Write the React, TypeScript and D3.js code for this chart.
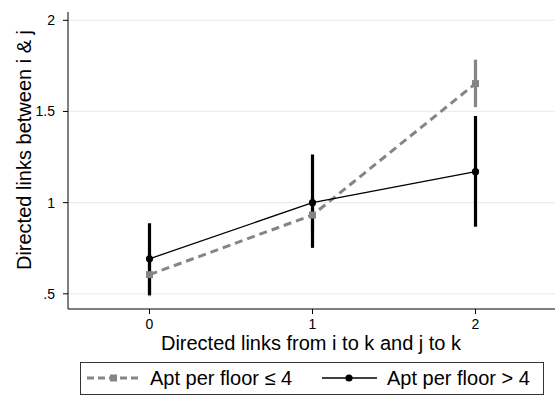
import React from "react";
import * as d3 from "d3";

const categories = [0, 1, 2];
const lowMean = [0.605, 0.932, 1.653];
const lowLo = [0.487, 0.84, 1.524];
const lowHi = [0.72, 1.03, 1.784];
const highMean = [0.692, 1.0, 1.17];
const highLo = [0.494, 0.752, 0.868];
const highHi = [0.887, 1.264, 1.475];
const yTicks = [0.5, 1, 1.5, 2];
const yTickLabels = [".5", "1", "1.5", "2"];
const xTicks = [0, 1, 2];
const seriesNames = ["Apt per floor \u2264 4", "Apt per floor > 4"];

const W = 555, H = 408;
const left = 68, right = 557, top = 12, bottom = 309;
const GRAY = "#858585";
const FONT = "'Liberation Sans', Arial, Helvetica, sans-serif";

export default function App() {
  const x = d3.scaleLinear().domain([-0.5, 2.5]).range([left, right]);
  const y = d3.scaleLinear().domain([0.5, 2]).range([293.8, 20.3]);
  const line = d3.line<number>().x((_, i) => x(categories[i])).y((v) => y(v));

  return (
    <svg width={W} height={H} style={{ position: "absolute", left: 0, top: 0, background: "#fff" }} fontFamily={FONT}>
      <rect x={0} y={0} width={W} height={H} fill="#fff" />
      {/* grid */}
      {yTicks.map((t) => (
        <line key={"g" + t} x1={left} x2={W} y1={y(t)} y2={y(t)} stroke="#e6eff1" strokeWidth={1.2} />
      ))}
      {/* axes */}
      <line x1={left} x2={left} y1={top} y2={bottom} stroke="#000" strokeWidth={1} />
      <line x1={left} x2={W} y1={bottom} y2={bottom} stroke="#000" strokeWidth={1} />
      {yTicks.map((t, i) => (
        <g key={"yt" + t}>
          <line x1={left - 5} x2={left} y1={y(t)} y2={y(t)} stroke="#000" />
          <text x={55} y={y(t) + 5} textAnchor="end" fontSize={14} fill="#000">{yTickLabels[i]}</text>
        </g>
      ))}
      {xTicks.map((t) => (
        <g key={"xt" + t}>
          <line x1={x(t)} x2={x(t)} y1={bottom} y2={bottom + 5} stroke="#000" />
          <text x={x(t)} y={329} textAnchor="middle" fontSize={14} fill="#000">{t}</text>
        </g>
      ))}
      <text x={311} y={350} textAnchor="middle" fontSize={20} fill="#000">Directed links from i to k and j to k</text>
      <text transform={`translate(31,150) rotate(-90)`} textAnchor="middle" fontSize={20} fill="#000">Directed links between i &amp; j</text>

      {/* CIs */}
      {categories.map((c, i) => (
        <line key={"lc" + c} x1={x(c)} x2={x(c)} y1={y(lowLo[i])} y2={y(lowHi[i])} stroke={GRAY} strokeWidth={3.2} />
      ))}
      {categories.map((c, i) => (
        <line key={"hc" + c} x1={x(c)} x2={x(c)} y1={y(highLo[i])} y2={y(highHi[i])} stroke="#000" strokeWidth={3.2} />
      ))}
      {/* low series */}
      <path d={line(lowMean) || ""} fill="none" stroke={GRAY} strokeWidth={3} strokeDasharray="8,5" />
      {categories.map((c, i) => (
        <rect key={"ls" + c} x={x(c) - 3.5} y={y(lowMean[i]) - 3.5} width={7} height={7} fill={GRAY} />
      ))}
      {/* high series */}
      <path d={line(highMean) || ""} fill="none" stroke="#000" strokeWidth={1.3} />
      {categories.map((c, i) => (
        <circle key={"hs" + c} cx={x(c)} cy={y(highMean[i])} r={3.6} fill="#000" />
      ))}

      {/* legend */}
      <rect x={80.5} y={362.5} width={463} height={32} fill="#fff" stroke="#333" strokeWidth={1} />
      <line x1={87} x2={140} y1={378} y2={378} stroke={GRAY} strokeWidth={3} strokeDasharray="7,4" />
      <rect x={110} y={374.5} width={7} height={7} fill={GRAY} />
      <text x={150} y={385} fontSize={20} fill="#000">{seriesNames[0]}</text>
      <line x1={322} x2={377} y1={378} y2={378} stroke="#000" strokeWidth={1.3} />
      <circle cx={349} cy={378} r={3.6} fill="#000" />
      <text x={387} y={385} fontSize={20} fill="#000">{seriesNames[1]}</text>
    </svg>
  );
}
